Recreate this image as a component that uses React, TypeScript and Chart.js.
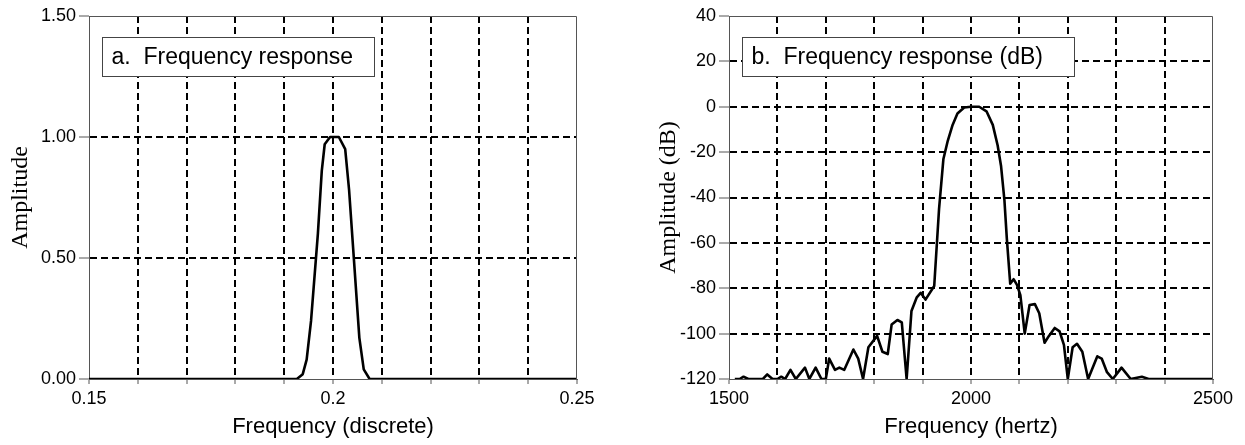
import React, { useEffect, useRef } from 'react';
import { Chart, registerables } from 'chart.js';

Chart.register(...registerables);

// ---------- data: panel a (linear amplitude) ----------
const leftFreq = [0.15, 0.1926, 0.1938, 0.1946, 0.1955, 0.1969, 0.1977, 0.1983, 0.1994, 0.2012, 0.2025, 0.2033, 0.2043, 0.2054, 0.2063, 0.2075, 0.25];
const leftAmp = [0, 0, 0.02, 0.08, 0.24, 0.6, 0.86, 0.97, 1.0, 1.0, 0.95, 0.78, 0.49, 0.17, 0.04, 0, 0];
const leftXTickValues = [0.15, 0.2, 0.25];
const leftXTickLabels = ['0.15', '0.2', '0.25'];
const leftYTickValues = [0, 0.5, 1, 1.5];
const leftYTickLabels = ['0.00', '0.50', '1.00', '1.50'];

// ---------- data: panel b (dB) ----------
const rightFreq = [1512, 1522, 1530, 1540, 1570, 1579, 1590, 1600, 1608, 1616, 1627, 1638, 1657, 1666, 1679, 1691, 1700, 1707, 1719, 1728, 1738, 1757, 1767, 1777, 1788, 1806, 1817, 1828, 1836, 1848, 1857, 1867, 1877, 1888, 1896, 1906, 1924, 1934, 1943, 1952, 1962, 1972, 1986, 2000, 2017, 2032, 2045, 2055, 2062, 2069, 2074, 2081, 2088, 2095, 2102, 2111, 2121, 2132, 2141, 2152, 2161, 2173, 2183, 2192, 2200, 2210, 2219, 2230, 2242, 2261, 2270, 2281, 2293, 2311, 2330, 2353, 2367, 2500];
const rightDb = [-120, -120, -119, -120, -120, -118, -120, -120, -119, -120, -116, -120, -115, -120, -115, -120, -120, -111, -116, -115, -116, -107, -111, -120, -106, -101, -108, -109, -96, -94, -95, -120, -90, -84, -82, -85, -79, -45, -23, -15, -8, -3, -0.3, 0, 0, -2, -8, -17, -26, -41, -58, -78, -76, -78.5, -83, -100, -87.4, -87, -91, -104, -101, -97.5, -99, -105, -120, -106, -104.5, -108, -120, -110, -111, -117, -120, -115, -120, -119, -120, -120];
const rightXTickValues = [1500, 2000, 2500];
const rightXTickLabels = ['1500', '2000', '2500'];
const rightYTickValues = [-120, -100, -80, -60, -40, -20, 0, 20, 40];
const rightYTickLabels = ['-120', '-100', '-80', '-60', '-40', '-20', '0', '20', '40'];

const SANS = "'Liberation Sans', Arial, sans-serif";
const SERIF = "'Liberation Serif', 'Times New Roman', serif";
const AXIS_COLOR = '#555';

const framePlugin = {
  id: 'frame',
  afterDraw(chart: any, _args: any, opts: any) {
    const { ctx, chartArea: a } = chart;
    ctx.save();
    ctx.strokeStyle = AXIS_COLOR;
    ctx.lineWidth = 1;
    ctx.beginPath();
    const ty = Math.round(a.top) + 0.5;
    const rx = Math.round(a.right) - 0.5;
    ctx.moveTo(a.left, ty);
    ctx.lineTo(rx, ty);
    ctx.lineTo(rx, a.bottom);
    ctx.stroke();
    const bx = Math.round(a.left + opts.boxDx) + 0.5;
    const by = Math.round(a.top + opts.boxDy) + 0.5;
    ctx.fillStyle = '#fff';
    ctx.fillRect(bx, by, opts.boxW, opts.boxH);
    ctx.strokeStyle = '#444';
    ctx.lineWidth = 1;
    ctx.strokeRect(bx, by, opts.boxW, opts.boxH);
    ctx.fillStyle = '#000';
    ctx.font = `23px ${SANS}`;
    ctx.textBaseline = 'middle';
    ctx.textAlign = 'left';
    ctx.fillText(opts.text, bx + 9, by + opts.boxH / 2 + 1);
    ctx.restore();
  },
};

function near(list: number[], v: number) {
  return list.findIndex((t) => Math.abs(t - v) < 1e-7);
}

function makeConfig(p: any) {
  const xMin = p.xMin, xMax = p.xMax, yMin = p.yMin, yMax = p.yMax;
  return {
    type: 'line',
    data: {
      datasets: [
        {
          data: p.xs.map((x: number, i: number) => ({ x, y: p.ys[i] })),
          borderColor: '#000',
          borderWidth: 2.6,
          pointRadius: 0,
          tension: 0,
          borderJoinStyle: 'round',
          fill: false,
        },
      ],
    },
    options: {
      responsive: false,
      animation: false,
      devicePixelRatio: 1,
      layout: { padding: { left: 0, top: 16, right: p.padRight, bottom: 0 } },
      plugins: {
        legend: { display: false },
        tooltip: { enabled: false },
        frame: { text: p.boxText, boxDx: 13, boxDy: 21, boxW: p.boxW, boxH: 39 },
      },
      scales: {
        x: {
          type: 'linear',
          min: xMin,
          max: xMax,
          afterFit: (s: any) => { s.height = 66; },
          ticks: {
            stepSize: p.xStep,
            autoSkip: false,
            maxRotation: 0,
            padding: 4,
            color: '#000',
            font: { family: SANS, size: 18 },
            callback: (v: number) => {
              const i = near(p.xTickValues, v);
              return i >= 0 ? p.xTickLabels[i] : '';
            },
          },
          grid: {
            color: (c: any) => {
              const v = c.tick ? c.tick.value : NaN;
              return Math.abs(v - xMin) < 1e-7 || Math.abs(v - xMax) < 1e-7 ? 'rgba(0,0,0,0)' : '#000';
            },
            lineWidth: 2,
            tickColor: AXIS_COLOR,
            tickWidth: 1,
            tickLength: 5,
          },
          border: { display: true, color: AXIS_COLOR, width: 1, dash: [7, 4] },
          title: {
            display: true,
            text: p.xTitle,
            color: '#000',
            font: { family: SANS, size: 22 },
            padding: { top: 0, bottom: 5 },
          },
        },
        y: {
          type: 'linear',
          min: yMin,
          max: yMax,
          afterFit: (s: any) => { s.width = 89; },
          ticks: {
            stepSize: p.yStep,
            padding: 3,
            color: '#000',
            font: { family: SANS, size: 18 },
            callback: (v: number) => {
              const i = near(p.yTickValues, v);
              return i >= 0 ? p.yTickLabels[i] : '';
            },
          },
          grid: {
            color: (c: any) => {
              const v = c.tick ? c.tick.value : NaN;
              return Math.abs(v - yMin) < 1e-7 || Math.abs(v - yMax) < 1e-7 ? 'rgba(0,0,0,0)' : '#000';
            },
            lineWidth: 2,
            tickColor: AXIS_COLOR,
            tickWidth: 1,
            tickLength: 10,
          },
          border: { display: true, color: AXIS_COLOR, width: 1, dash: [7, 4] },
          title: {
            display: true,
            text: p.yTitle,
            color: '#000',
            font: { family: SERIF, size: 24 },
            padding: { top: p.yTitlePad, bottom: 0 },
          },
        },
      },
    },
    plugins: [framePlugin],
  };
}

function Panel(props: { cfg: any; left: number; width: number }) {
  const ref = useRef<HTMLCanvasElement | null>(null);
  useEffect(() => {
    if (!ref.current) return;
    const chart = new Chart(ref.current, props.cfg as any);
    return () => chart.destroy();
  }, []);
  return (
    <canvas
      ref={ref}
      width={props.width}
      height={445}
      style={{ position: 'absolute', left: props.left, top: 0, width: props.width, height: 445 }}
    />
  );
}

const leftCfg = makeConfig({
  xs: leftFreq, ys: leftAmp,
  xMin: 0.15, xMax: 0.25, xStep: 0.01,
  yMin: 0, yMax: 1.5, yStep: 0.5,
  xTickValues: leftXTickValues, xTickLabels: leftXTickLabels,
  yTickValues: leftYTickValues, yTickLabels: leftYTickLabels,
  xTitle: 'Frequency (discrete)', yTitle: 'Amplitude', yTitlePad: 6,
  boxText: 'a.  Frequency response', boxW: 272, padRight: 43,
});

const rightCfg = makeConfig({
  xs: rightFreq, ys: rightDb,
  xMin: 1500, xMax: 2500, xStep: 100,
  yMin: -120, yMax: 40, yStep: 20,
  xTickValues: rightXTickValues, xTickLabels: rightXTickLabels,
  yTickValues: rightYTickValues, yTickLabels: rightYTickLabels,
  xTitle: 'Frequency (hertz)', yTitle: 'Amplitude (dB)', yTitlePad: 14,
  boxText: 'b.  Frequency response (dB)', boxW: 332, padRight: 32,
});

export default function App() {
  return (
    <div style={{ position: 'fixed', left: 0, top: 0, width: 1245, height: 445, background: '#fff', overflow: 'hidden' }}>
      <Panel cfg={leftCfg} left={0} width={620} />
      <Panel cfg={rightCfg} left={640} width={605} />
    </div>
  );
}
